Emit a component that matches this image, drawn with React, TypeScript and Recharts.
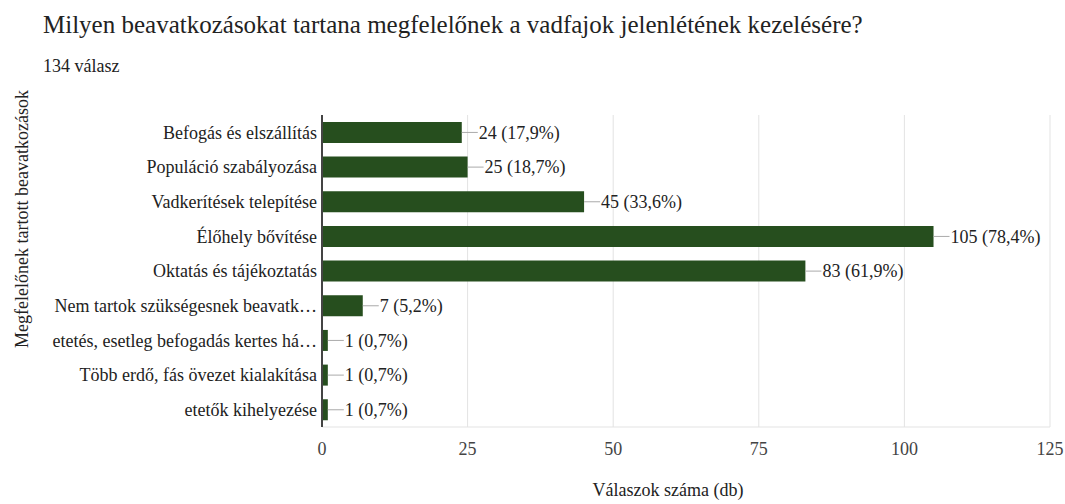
import React from "react";
import { BarChart, Bar, XAxis, YAxis, CartesianGrid, LabelList } from "recharts";

const categories = [
  "Befogás és elszállítás",
  "Populáció szabályozása",
  "Vadkerítések telepítése",
  "Élőhely bővítése",
  "Oktatás és tájékoztatás",
  "Nem tartok szükségesnek beavatk…",
  "etetés, esetleg befogadás kertes há…",
  "Több erdő, fás övezet kialakítása",
  "etetők kihelyezése",
];
const counts = [24, 25, 45, 105, 83, 7, 1, 1, 1];
const percents = ["17,9%", "18,7%", "33,6%", "78,4%", "61,9%", "5,2%", "0,7%", "0,7%", "0,7%"];
const xTicks = [0, 25, 50, 75, 100, 125];

const data = categories.map((name, i) => ({ name, value: counts[i], pct: percents[i] }));

const FONT = "'Liberation Serif', 'Times New Roman', serif";

const renderLabel = (props: any) => {
  const { x, y, width, height, index } = props;
  const ex = x + width;
  const cy = y + height / 2;
  const d = data[index];
  return (
    <g>
      <line x1={ex} y1={cy} x2={ex + 16} y2={cy} stroke="#aaaaaa" strokeWidth={1} />
      <text x={ex + 17} y={cy} dy="0.35em" fontFamily={FONT} fontSize={18} fill="#222">
        {`${d.value} (${d.pct})`}
      </text>
    </g>
  );
};

export default function App() {
  return (
    <div style={{ position: "absolute", left: 0, top: 0, width: 1065, height: 504, background: "#fff", fontFamily: FONT }}>
      <div style={{ position: "absolute", left: 43, top: 11, fontSize: 25, color: "#222", whiteSpace: "nowrap" }}>
        Milyen beavatkozásokat tartana megfelelőnek a vadfajok jelenlétének kezelésére?
      </div>
      <div style={{ position: "absolute", left: 43, top: 56, fontSize: 18, color: "#222", whiteSpace: "nowrap" }}>
        134 válasz
      </div>
      <BarChart
        width={1065}
        height={504}
        data={data}
        layout="vertical"
        margin={{ top: 115, right: 15, bottom: 47, left: 0 }}
        barCategoryGap="20%"
      >
        <CartesianGrid horizontal={false} vertical={true} stroke="#e3e3e3" />
        <XAxis
          type="number"
          domain={[0, 125]}
          ticks={xTicks}
          height={30}
          axisLine={{ stroke: "#e3e3e3" }}
          tickLine={false}
          tickMargin={9}
          tick={{ fontFamily: FONT, fontSize: 18, fill: "#444" }}
        />
        <YAxis
          type="category"
          dataKey="name"
          width={322}
          axisLine={{ stroke: "#444", strokeWidth: 2 }}
          tickLine={false}
          tickSize={0}
          tickMargin={5}
          interval={0}
          tick={{ fontFamily: FONT, fontSize: 18, fill: "#222" }}
        />
        <Bar dataKey="value" fill="#264e1e" isAnimationActive={false}>
          <LabelList dataKey="value" content={renderLabel} />
        </Bar>
      </BarChart>
      <div
        style={{
          position: "absolute",
          left: 22,
          top: 219,
          transform: "translate(-50%, -50%) rotate(-90deg)",
          fontSize: 18,
          color: "#222",
          whiteSpace: "nowrap",
        }}
      >
        Megfelelőnek tartott beavatkozások
      </div>
      <div
        style={{
          position: "absolute",
          left: 668,
          top: 480,
          transform: "translateX(-50%)",
          fontSize: 18,
          color: "#222",
          whiteSpace: "nowrap",
        }}
      >
        Válaszok száma (db)
      </div>
    </div>
  );
}
